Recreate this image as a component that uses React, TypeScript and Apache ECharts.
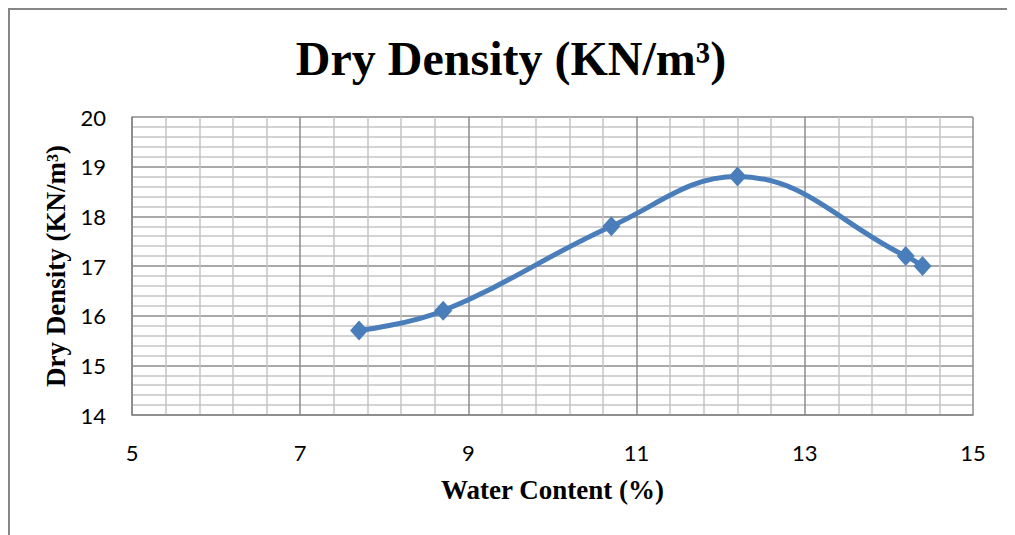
import React, { useEffect, useRef } from "react";
import * as echarts from "echarts";

const waterContent = [7.7, 8.7, 10.7, 12.2, 14.2, 14.4];
const dryDensity = [15.7, 16.1, 17.8, 18.8, 17.2, 17.0];
const titleText = "Dry Density (KN/m³)";
const xName = "Water Content (%)";
const yName = "Dry Density (KN/m³)";

export default function App() {
  const ref = useRef<HTMLDivElement>(null);
  useEffect(() => {
    document.documentElement.style.overflow = "hidden";
    if (!ref.current) return;
    const chart = echarts.init(ref.current, null, { renderer: "svg" });
    const data = waterContent.map((x, i) => [x, dryDensity[i]]);
    chart.setOption({
      animation: false,
      backgroundColor: "#ffffff",
      title: {
        text: titleText,
        left: "center",
        top: 19,
        textStyle: {
          fontFamily: "Liberation Serif",
          fontWeight: "bold",
          fontSize: 48,
          color: "#000",
        },
      },
      grid: { left: 122, top: 107, width: 841, height: 298 },
      xAxis: {
        type: "value",
        min: 5,
        max: 15,
        interval: 2,
        name: xName,
        nameLocation: "middle",
        nameGap: 61,
        nameTextStyle: {
          fontFamily: "Liberation Serif",
          fontWeight: "bold",
          fontSize: 27,
          color: "#000",
        },
        axisLine: { show: true, lineStyle: { color: "#868686", width: 1.5 } },
        axisTick: { show: false },
        axisLabel: {
          margin: 26,
          fontFamily: "Lato",
          fontSize: 22,
          color: "#000",
        },
        splitLine: { show: true, lineStyle: { color: "#8c8c8c", width: 1.5 } },
        minorTick: { show: false, splitNumber: 5 },
        minorSplitLine: { show: true, lineStyle: { color: "#c4c4c4", width: 1.5 } },
      },
      yAxis: {
        type: "value",
        min: 14,
        max: 20,
        interval: 1,
        name: yName,
        nameLocation: "middle",
        nameGap: 60,
        nameTextStyle: {
          fontFamily: "Liberation Serif",
          fontWeight: "bold",
          fontSize: 27,
          color: "#000",
        },
        axisLine: { show: true, lineStyle: { color: "#868686", width: 1.5 } },
        axisTick: { show: false },
        axisLabel: {
          margin: 26,
          fontFamily: "Lato",
          fontSize: 22,
          color: "#000",
        },
        splitLine: { show: true, lineStyle: { color: "#8c8c8c", width: 1.5 } },
        minorTick: { show: false, splitNumber: 5 },
        minorSplitLine: { show: true, lineStyle: { color: "#c4c4c4", width: 1.5 } },
      },
      series: [
        {
          type: "line",
          data,
          smooth: 0.4,
          symbol: "diamond",
          symbolSize: [18, 20],
          lineStyle: { color: "#4a7ebb", width: 5 },
          itemStyle: { color: "#4a7ebb" },
        },
      ],
    });
    return () => chart.dispose();
  }, []);
  return (
    <div
      style={{
        width: 1006,
        height: 527,
        boxSizing: "border-box",
        borderLeft: "2px solid #868686",
        borderTop: "2px solid #868686",
        borderRight: "2px solid #868686",
      }}
    >
      <div ref={ref} style={{ width: 1002, height: 525 }} />
    </div>
  );
}
